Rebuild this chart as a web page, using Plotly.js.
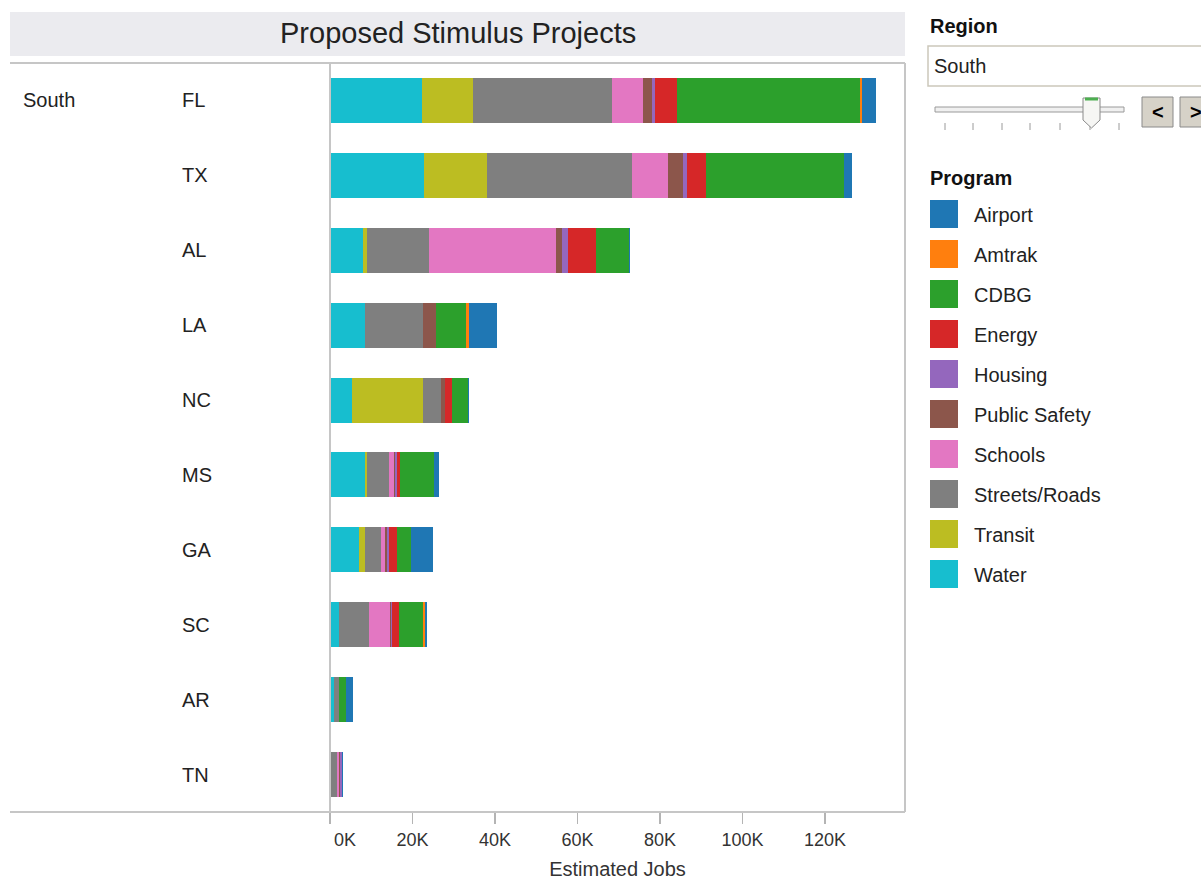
<!DOCTYPE html>
<html>
<head>
<meta charset="utf-8">
<script src="https://cdn.plot.ly/plotly-3.0.1.min.js"></script>
<style>
html,body{margin:0;padding:0;background:#fff;}
#chart{width:1201px;height:880px;}
</style>
</head>
<body>
<div id="chart"></div>
<script>
// ---- data (thousands of estimated jobs) ----
var states = ["FL","TX","AL","LA","NC","MS","GA","SC","AR","TN"];
var region = "South";
var programs = ["Airport","Amtrak","CDBG","Energy","Housing","Public Safety","Schools","Streets/Roads","Transit","Water"];
var colors = ["#1f77b4","#ff7f0e","#2ca02c","#d62728","#9467bd","#8c564b","#e377c2","#7f7f7f","#bcbd22","#17becf"];
var water       = [22.2, 22.7, 8.1, 8.6, 5.3, 8.6, 7.1, 2.3, 1.0, 0.3];
var transit     = [12.5, 15.4, 0.9, 0.0, 17.3, 0.4, 1.5, 0.0, 0.0, 0.0];
var streets     = [33.6, 35.0, 15.1, 14.0, 4.4, 5.4, 3.8, 7.2, 1.3, 1.4];
var schools     = [7.6, 8.8, 30.6, 0.0, 0.0, 1.0, 1.0, 5.0, 0.0, 0.5];
var publicSafety= [2.1, 3.7, 1.5, 3.0, 0.9, 0.3, 0.3, 0.2, 0.0, 0.2];
var housing     = [0.8, 1.0, 1.4, 0.2, 0.0, 0.6, 0.5, 0.3, 0.0, 0.4];
var energy      = [5.3, 4.5, 6.8, 0.0, 1.6, 0.6, 2.1, 1.8, 0.0, 0.0];
var cdbg        = [44.4, 33.4, 8.0, 7.1, 4.0, 8.2, 3.4, 5.8, 1.5, 0.0];
var amtrak      = [0.5, 0.0, 0.0, 0.9, 0.0, 0.0, 0.0, 0.5, 0.0, 0.0];
var airport     = [3.3, 2.0, 0.3, 6.8, 0.3, 1.4, 5.3, 0.4, 1.8, 0.3];
var tickVals = [0, 20, 40, 60, 80, 100, 120];
var tickText = ["\u2007\u2007\u20070K","20K","40K","60K","80K","100K","120K"];

// stacking order left -> right
var stackOrder = [
  ["Water", water], ["Transit", transit], ["Streets/Roads", streets], ["Schools", schools],
  ["Public Safety", publicSafety], ["Housing", housing], ["Energy", energy],
  ["CDBG", cdbg], ["Amtrak", amtrak], ["Airport", airport]
];

var FONT = "Liberation Sans, Arial, sans-serif";
var TXT = "#222";

var traces = stackOrder.map(function(p){
  return {
    type: "bar", orientation: "h", name: p[0],
    x: p[1], y: states,
    marker: {color: colors[programs.indexOf(p[0])], line: {width: 0}},
    width: 0.6, hoverinfo: "skip", showlegend: false
  };
});

// pixel -> paper helpers (plot area: x 330..905, y 63..812)
var L = 330, R = 905, T = 63, B = 812;
function X(px){ return (px - L) / (R - L); }
function Y(py){ return (B - py) / (B - T); }

var shapes = [];
var ann = [];
function rect(x0,y0,x1,y1,fill,line,lw){
  shapes.push({type:"rect",xref:"paper",yref:"paper",x0:X(x0),x1:X(x1),y0:Y(y1),y1:Y(y0),
    fillcolor:fill,line:{color:line||fill,width:lw===undefined?0:lw},layer:"above"});
}
function line(x0,y0,x1,y1,color,w){
  shapes.push({type:"line",xref:"paper",yref:"paper",x0:X(x0),x1:X(x1),y0:Y(y0),y1:Y(y1),
    line:{color:color,width:w},layer:"above"});
}
function text(t,px,py,size,opts){
  opts = opts||{};
  ann.push({xref:"paper",yref:"paper",x:X(px),y:Y(py),text:t,showarrow:false,
    xanchor:opts.xanchor||"left",yanchor:"middle",
    font:{family:FONT,size:size,color:opts.color||TXT}});
}

// title band
shapes.push({type:"rect",xref:"paper",yref:"paper",x0:X(10),x1:X(905),y0:Y(56),y1:Y(12),
  fillcolor:"#ebebef",line:{width:0},layer:"below"});
text("Proposed Stimulus Projects", 458, 33, 29, {xanchor:"center"});

// pane borders
line(10,63,905,63,"#c6c6c6",2);
line(10,812,905,812,"#c6c6c6",2);
line(330,63,330,812,"#c6c6c6",2);
line(905,63,905,812,"#c6c6c6",2);

// row headers
text(region, 21, 100, 20);
states.forEach(function(s, i){
  ann.push({xref:"paper",yref:"y",x:X(180),y:s,text:s,showarrow:false,xanchor:"left",yanchor:"middle",
    font:{family:FONT,size:20,color:TXT}});
});

// region filter panel
text("<b>Region</b>", 928, 26, 20, {color:"#111"});
rect(928,46,1215,86,"#ffffff","#cbc7bb",1.5);
text(region, 932, 66, 20);
// slider
rect(935,107,1124,112,"#f0f0f0","#9a9a9a",1);
[945,973,1002,1030,1060,1090,1119].forEach(function(tx){ line(tx,123,tx,130,"#9a9a9a",1); });
shapes.push({type:"path",xref:"paper",yref:"paper",
  path:"M "+X(1083)+","+Y(98)+" L "+X(1100)+","+Y(98)+" L "+X(1100)+","+Y(120)+" L "+X(1091.5)+","+Y(128)+" L "+X(1083)+","+Y(120)+" Z",
  fillcolor:"#f6f6f4",line:{color:"#8a8a8a",width:1},layer:"above"});
line(1085,99,1098,99,"#4caf50",3);
// step buttons
rect(1142,97,1173,127,"#d6d2c8","#8a8a8a",1);
rect(1180,97,1211,127,"#d6d2c8","#8a8a8a",1);
text("<b>&lt;</b>", 1157.5, 112, 20, {xanchor:"center",color:"#000"});
text("<b>&gt;</b>", 1195.5, 112, 20, {xanchor:"center",color:"#000"});

// program legend
text("<b>Program</b>", 928, 178, 20, {color:"#111"});
programs.forEach(function(p, i){
  var cy = 214 + 40*i;
  rect(930, cy-14, 958, cy+14, colors[i], colors[i], 0);
  text(p, 972, cy+1, 20);
});

var layout = {
  width: 1201, height: 880,
  margin: {l: L, r: 1201 - R, t: T, b: 880 - B, pad: 0},
  paper_bgcolor: "#ffffff", plot_bgcolor: "#ffffff",
  barmode: "stack", bargap: 0.4,
  showlegend: false,
  font: {family: FONT, color: TXT},
  xaxis: {
    range: [0, 139.4], showgrid: false, zeroline: false, showline: false,
    ticks: "outside", ticklen: 11, tickwidth: 1.5, tickcolor: "#b4b4b4",
    tickvals: tickVals, ticktext: tickText,
    tickfont: {family: FONT, size: 18, color: "#333"},
    title: {text: "Estimated Jobs", font: {family: FONT, size: 20, color: "#333"}, standoff: 14},
    fixedrange: true
  },
  yaxis: {
    type: "category", categoryorder: "array", categoryarray: states,
    range: [9.5, -0.5], showticklabels: false, showgrid: false, zeroline: false,
    showline: false, ticks: "", fixedrange: true
  },
  shapes: shapes,
  annotations: ann
};

Plotly.newPlot("chart", traces, layout, {staticPlot: true, displayModeBar: false});
</script>
</body>
</html>
